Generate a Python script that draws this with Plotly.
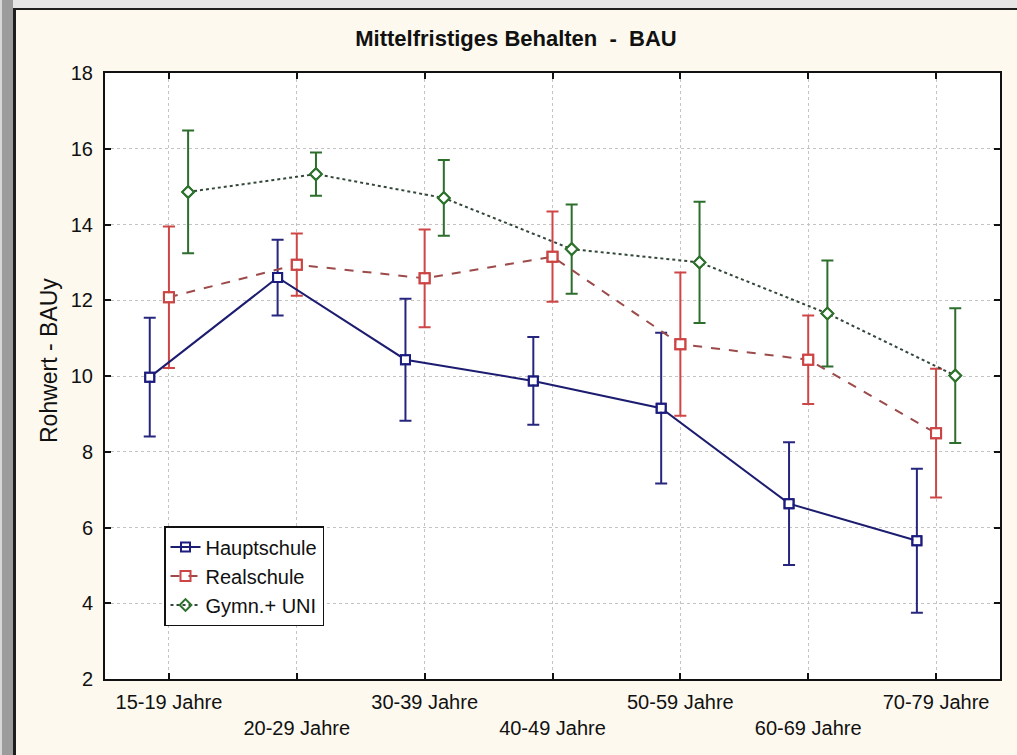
import plotly.graph_objects as go

# ---------------- data ----------------
categories = ["15-19 Jahre", "20-29 Jahre", "30-39 Jahre", "40-49 Jahre",
              "50-59 Jahre", "60-69 Jahre", "70-79 Jahre"]

haupt_mean = [9.97, 12.6, 10.43, 9.87, 9.15, 6.63, 5.65]
haupt_ci = [1.57, 1.0, 1.61, 1.16, 1.99, 1.62, 1.9]

real_mean = [12.08, 12.94, 12.58, 13.15, 10.84, 10.43, 8.49]
real_ci = [1.87, 0.82, 1.29, 1.19, 1.89, 1.17, 1.70]

gymn_mean = [14.86, 15.33, 14.7, 13.35, 13.0, 11.65, 10.01]
gymn_ci = [1.62, 0.57, 1.0, 1.18, 1.6, 1.4, 1.78]

series_names = ["Hauptschule", "Realschule", "Gymn.+ UNI"]
y_ticks = [2, 4, 6, 8, 10, 12, 14, 16, 18]

# ---------------- layout geometry ----------------
W, H = 1017, 755
L, R, T, B = 105, 1000, 73, 679


def px2x(px):
    return (px - L) / (R - L)


def py2y(py):
    return (B - py) / (B - T)


FONT = "Liberation Sans, Arial, sans-serif"

series = [
    dict(name=series_names[0], mean=haupt_mean, ci=haupt_ci, off=-0.15,
         color="#1c1c80", lcolor="#1c1c70", dash="solid", lw=2,
         symbol="square-open", msize=9, ecolor="#26267e", ew=2),
    dict(name=series_names[1], mean=real_mean, ci=real_ci, off=0.0,
         color="#cc4444", lcolor="#9c4a4a", dash="dash", lw=2,
         symbol="square-open", msize=10, ecolor="#cf4646", ew=2),
    dict(name=series_names[2], mean=gymn_mean, ci=gymn_ci, off=0.15,
         color="#2d732d", lcolor="#34483a", dash="dot", lw=2,
         symbol="diamond-open", msize=9, ecolor="#2d6e2d", ew=2),
]

fig = go.Figure()

# error bars (drawn first, below the markers)
for s in series:
    xs = [i + s["off"] for i in range(len(categories))]
    fig.add_trace(go.Scatter(
        x=xs, y=s["mean"], mode="markers",
        marker=dict(size=1, opacity=0),
        error_y=dict(type="data", array=s["ci"], symmetric=True,
                     color=s["ecolor"], thickness=s["ew"], width=6),
        showlegend=False, hoverinfo="skip"))

# lines + markers
for s in series:
    xs = [i + s["off"] for i in range(len(categories))]
    fig.add_trace(go.Scatter(
        x=xs, y=s["mean"], mode="lines+markers", name=s["name"],
        line=dict(color=s["lcolor"], width=s["lw"], dash=s["dash"]),
        marker=dict(symbol=s["symbol"], size=s["msize"], color=s["color"],
                    line=dict(width=2, color=s["color"])),
    ))

# white fill behind open markers
for s in series:
    xs = [i + s["off"] for i in range(len(categories))]
    fig.add_trace(go.Scatter(
        x=xs, y=s["mean"], mode="markers",
        marker=dict(symbol=s["symbol"].replace("-open", ""), size=s["msize"] - 2,
                    color="white", line=dict(width=0)),
        showlegend=False, hoverinfo="skip"))
for s in series:
    xs = [i + s["off"] for i in range(len(categories))]
    fig.add_trace(go.Scatter(
        x=xs, y=s["mean"], mode="markers",
        marker=dict(symbol=s["symbol"], size=s["msize"], color=s["color"],
                    line=dict(width=2, color=s["color"])),
        showlegend=False, hoverinfo="skip"))

ticktext = [c if i % 2 == 0 else "<br>" + c for i, c in enumerate(categories)]

axis_common = dict(
    showline=True, linecolor="#111111", linewidth=2, mirror="ticks",
    ticks="inside", ticklen=6, tickwidth=2, tickcolor="#111111",
    showgrid=True, gridcolor="#c4c4c4", gridwidth=1, griddash="dot",
    zeroline=False,
    tickfont=dict(family=FONT, size=20, color="#111111"),
)

fig.update_layout(
    width=W, height=H,
    margin=dict(l=L, r=W - R, t=T, b=H - B),
    paper_bgcolor="#fdf9ef",
    plot_bgcolor="#ffffff",
    title=dict(text="Mittelfristiges Behalten\u00a0\u00a0-\u00a0\u00a0BAU",
               font=dict(family=FONT, size=22, color="#111111", weight="bold"),
               x=516 / W, xref="container", xanchor="center",
               y=1 - 38 / H, yref="container", yanchor="middle"),
    xaxis=dict(range=[-0.5, 6.5], tickmode="array",
               tickvals=list(range(len(categories))), ticktext=ticktext,
               ticklabelstandoff=4, **axis_common),
    yaxis=dict(range=[2, 18], tickmode="array", tickvals=y_ticks,
               ticklabelstandoff=6, **axis_common),
    legend=dict(x=px2x(164), y=py2y(526), xanchor="left", yanchor="top",
                bgcolor="#ffffff", bordercolor="#111111", borderwidth=1.5,
                font=dict(family=FONT, size=20, color="#111111"),
                itemwidth=30, tracegroupgap=0),
    showlegend=True,
    annotations=[dict(text="Rohwert - BAUy", textangle=-90,
                      xref="paper", yref="paper", x=px2x(49), y=py2y(361),
                      xanchor="center", yanchor="middle", showarrow=False,
                      font=dict(family=FONT, size=23, color="#111111"))],
    shapes=[
        dict(type="rect", xref="paper", yref="paper", layer="above",
             x0=px2x(0), x1=px2x(W), y0=py2y(0), y1=py2y(8),
             fillcolor="#e6e6e6", line=dict(width=0)),
        dict(type="rect", xref="paper", yref="paper", layer="above",
             x0=px2x(13), x1=px2x(W), y0=py2y(8), y1=py2y(10),
             fillcolor="#1e1e1e", line=dict(width=0)),
        dict(type="rect", xref="paper", yref="paper", layer="above",
             x0=px2x(0), x1=px2x(2), y0=py2y(0), y1=py2y(H),
             fillcolor="#d8d8d8", line=dict(width=0)),
        dict(type="rect", xref="paper", yref="paper", layer="above",
             x0=px2x(2), x1=px2x(13), y0=py2y(0), y1=py2y(H),
             fillcolor="#9c9c9c", line=dict(width=0)),
        dict(type="rect", xref="paper", yref="paper", layer="above",
             x0=px2x(13), x1=px2x(16), y0=py2y(8), y1=py2y(H),
             fillcolor="#1e1e1e", line=dict(width=0)),
    ],
)

fig.write_html(
    "out.html",
    config={"displayModeBar": False},
    post_script="document.body.style.margin='0';"
                "document.body.style.overflow='hidden';",
)
